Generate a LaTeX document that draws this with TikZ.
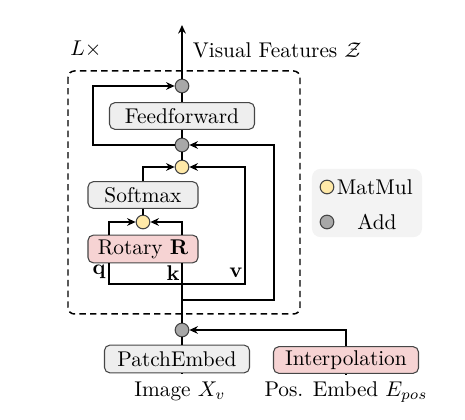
\documentclass[tikz,border=0pt]{standalone}
\usetikzlibrary{arrows.meta}
\definecolor{blkgray}{RGB}{238,238,238}
\definecolor{rotpink}{RGB}{246,211,211}
\definecolor{mulyellow}{RGB}{255,233,168}
\definecolor{addgray}{RGB}{168,168,168}
\definecolor{leggray}{RGB}{243,243,243}
\definecolor{edgegray}{RGB}{70,70,70}

\begin{document}
\begin{tikzpicture}[x=0.469pt,y=-0.469pt,line width=0.7pt,
  >={Stealth[length=4pt,width=3.6pt]},
  blk/.style={draw=edgegray,line width=0.5pt,rounded corners=2.5pt,
    minimum width=68pt,minimum height=12.5pt,inner sep=0pt},
  addc/.style={circle,draw=edgegray,line width=0.5pt,fill=addgray,
    minimum size=6.4pt,inner sep=0pt},
  mulc/.style={addc,fill=mulyellow}]
  \useasboundingbox (0,0) rectangle (465,420);
  % layer frame
  \draw[dashed,dash pattern=on 3pt off 2pt,rounded corners=3pt] (68,71) rectangle (300,314);
  \node (lx) at (86,49) {$L\times$};
  \node[fill=leggray,rounded corners=4pt,minimum width=51.6pt,minimum height=32pt] (leg) at (367,203) {};
  % blocks
  \node[addc] (add1) at (182,86) {};
  \node[blk,fill=blkgray] (ff) at (182,116) {Feedforward};
  \node[addc] (add2) at (182,145) {};
  \node[mulc] (mm1) at (182,167) {};
  \node[blk,fill=blkgray,minimum width=51.6pt] (soft) at (143,195) {Softmax};
  \node[mulc] (mm2) at (143,222) {};
  \node[blk,fill=rotpink,minimum width=51.6pt,minimum height=13pt] (rot) at (143,249) {Rotary $\mathbf{R}$};
  \node[addc] (add3) at (182,330) {};
  \node[blk,fill=blkgray,minimum height=13pt] (patch) at (177,359) {PatchEmbed};
  \node[blk,fill=rotpink,minimum height=12.5pt] (interp) at (346,360) {Interpolation};
  \node (img) at (180,391) {Image $X_v$};
  \node (pos) at (346,392) {Pos. Embed $E_{pos}$};
  \node[anchor=west] (vis) at (185,50) {Visual Features $\mathcal{Z}$};
  \node (qlab) at (99,272) {$\mathbf{q}$};
  \node (klab) at (173,273) {$\mathbf{k}$};
  \node (vlab) at (236,273) {$\mathbf{v}$};
  % lanes
  \coordinate (out) at (182,25);
  \coordinate (qlane) at (109,284);
  \coordinate (vlane) at (245,284);
  \coordinate (reslane) at (274,300);
  \coordinate (fflane) at (93,86);
  % connectors
  \draw[->] (add1) -- (out);
  \draw (ff) -- (add1);
  \draw (add2) -- (ff);
  \draw (mm1) -- (add2);
  \draw[->] (add2) -| (fflane) -- (add1);
  \draw[->] (soft.north) |- (mm1);
  \draw (mm2) -- (soft);
  \draw[->] (rot.north -| qlane) |- (mm2);
  \draw[->] (rot.north -| add3) |- (mm2);
  \draw[->] (rot.south -| qlane) -- (qlane) -- (vlane) |- (mm1);
  \draw (add3) -- (rot.south -| add3);
  \draw[->] (add3 |- reslane) -- (reslane) |- (add2);
  \draw (patch.north -| add3) -- (add3);
  \draw[->] (interp.north) |- (add3);
  \draw (patch.south -| add3) -- (img.north -| add3);
  \draw (interp) -- (pos);
  % legend
  \node[mulc] (legmul) at (327,187) {};
  \node[anchor=west,inner sep=1pt] (legmultxt) at (334,187) {MatMul};
  \node[addc] (legadd) at (327,222) {};
  \node (legaddtxt) at (377,222) {Add};
\end{tikzpicture}
\end{document}
